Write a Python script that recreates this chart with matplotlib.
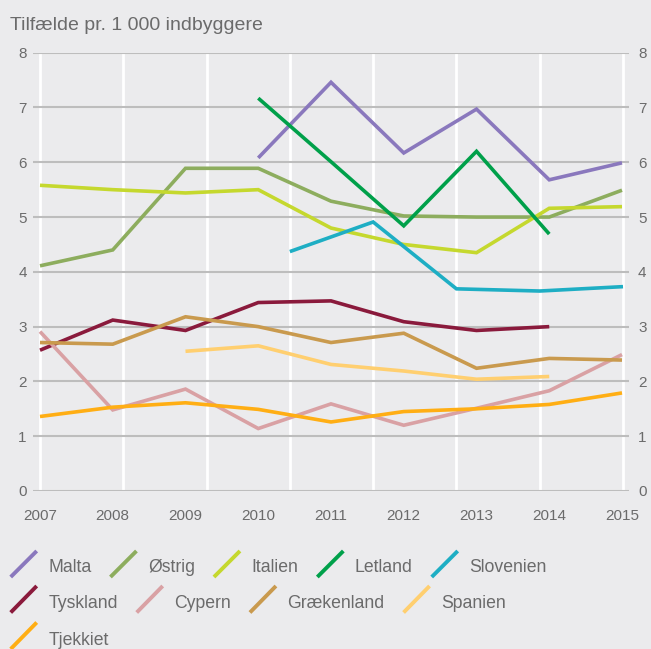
import matplotlib
matplotlib.use("Agg")
import matplotlib.pyplot as plt
from matplotlib import transforms
from matplotlib.lines import Line2D

plt.rcParams['font.family'] = ['Liberation Sans', 'DejaVu Sans']

years = [2007, 2008, 2009, 2010, 2011, 2012, 2013, 2014, 2015]

# Series on the yearly axis (None = no observation)
malta      = [None, None, None, 6.08, 7.46, 6.17, 6.97, 5.68, 5.99]
oestrig    = [4.11, 4.40, 5.89, 5.89, 5.29, 5.02, 5.00, 5.00, 5.49]
italien    = [5.58, 5.50, 5.44, 5.50, 4.80, 4.50, 4.35, 5.16, 5.19]
letland    = [None, None, None, 7.17, 6.01, 4.84, 6.20, 4.69, None]
tyskland   = [2.57, 3.12, 2.93, 3.44, 3.47, 3.09, 2.93, 3.00, None]
cypern     = [2.91, 1.48, 1.86, 1.14, 1.59, 1.20, 1.51, 1.83, 2.49]
graekenland = [2.71, 2.68, 3.18, 3.00, 2.71, 2.88, 2.24, 2.42, 2.39]
spanien    = [None, None, 2.55, 2.65, 2.31, 2.19, 2.04, 2.09, None]
tjekkiet   = [1.36, 1.53, 1.61, 1.49, 1.26, 1.45, 1.50, 1.58, 1.79]

# Slovenia sits on the secondary (gridline) category axis
slovenien_pos = [3, 4, 5, 6, 7]
slovenien     = [4.37, 4.91, 3.69, 3.65, 3.73]

y_ticks = [0, 1, 2, 3, 4, 5, 6, 7, 8]

names = ['Malta', 'Østrig', 'Italien', 'Letland', 'Slovenien',
         'Tyskland', 'Cypern', 'Grækenland', 'Spanien', 'Tjekkiet']
colors = {
    'Malta': '#8a78bd', 'Østrig': '#8dad5e', 'Italien': '#c5d82e',
    'Letland': '#00a04a', 'Slovenien': '#1eaec4', 'Tyskland': '#8a1a3c',
    'Cypern': '#d9a1a4', 'Grækenland': '#c99a4e', 'Spanien': '#ffcf70',
    'Tjekkiet': '#ffae14',
}
series = {
    'Malta': malta, 'Østrig': oestrig, 'Italien': italien, 'Letland': letland,
    'Tyskland': tyskland, 'Cypern': cypern, 'Grækenland': graekenland,
    'Spanien': spanien, 'Tjekkiet': tjekkiet,
}

BG = '#ebebed'
TXT = '#6b6b6b'
W, H = 651, 649

fig = plt.figure(figsize=(W / 100, H / 100), dpi=100, facecolor=BG)


def fx(x):
    return x / W


def fy(y):
    return 1 - y / H


left, right, top, bottom = 33, 629, 52.7, 491
ax = fig.add_axes([fx(left), fy(bottom), fx(right - left), (bottom - top) / H])
ax2 = ax.twiny()
ax2.set_zorder(ax.get_zorder() - 1)
ax.patch.set_visible(False)
ax2.patch.set_facecolor(BG)

# primary yearly scale
px_per_year = (622 - 40) / 8
ax.set_xlim(2007 - (40 - left) / px_per_year, 2015 + (right - 622) / px_per_year)
ax.set_ylim(0, 8)
# secondary scale carrying the white vertical gridlines
px_per_cat = (623 - 40) / 7
ax2.set_xlim(-(40 - left) / px_per_cat, 7 + (right - 623) / px_per_cat)
ax2.set_xticks(range(8))
ax2.grid(axis='x', color='white', linewidth=2)
ax2.tick_params(axis='x', length=0, labeltop=False, labelbottom=False)
for s in ax2.spines.values():
    s.set_visible(False)

for s in ax.spines.values():
    s.set_visible(False)
ax.set_yticks(y_ticks)
ax.grid(axis='y', color='#bdbdbd', linewidth=1.5)
ax.tick_params(axis='y', length=0, labelsize=11, labelcolor=TXT, pad=4.5)
ax.set_xticks(years)
ax.tick_params(axis='x', length=0, labelsize=11, labelcolor=TXT, pad=13)
ax.set_axisbelow(True)

# duplicate value scale on the right
sec = ax.secondary_yaxis('right')
sec.set_yticks(y_ticks)
sec.tick_params(axis='y', length=0, labelsize=11, labelcolor=TXT, pad=6.5)
sec.spines['right'].set_visible(False)

lw = 2.6
for name in names:
    if name == 'Slovenien':
        trans = transforms.blended_transform_factory(ax2.transData, ax.transData)
        ax.plot(slovenien_pos, slovenien, color=colors[name], lw=lw,
                solid_capstyle='butt', solid_joinstyle='miter', transform=trans)
        continue
    vals = series[name]
    xs = [x for x, v in zip(years, vals) if v is not None]
    ys = [v for v in vals if v is not None]
    ax.plot(xs, ys, color=colors[name], lw=lw,
            solid_capstyle='butt', solid_joinstyle='miter')

fig.text(fx(10), fy(30), 'Tilfælde pr. 1 000 indbyggere', fontsize=14,
         color=TXT, ha='left', va='baseline')

# legend laid out in flowing rows: slanted swatch, then label
renderer = fig.canvas.get_renderer()
legend_rows = [
    (['Malta', 'Østrig', 'Italien', 'Letland', 'Slovenien'], 551, 577, 572.5),
    (['Tyskland', 'Cypern', 'Grækenland', 'Spanien'], 586, 612.5, 608.3),
    (['Tjekkiet'], 622.5, 649, 645),
]
for labels, ytop, ybot, base in legend_rows:
    x0 = 10.7
    for lab in labels:
        fig.add_artist(Line2D([fx(x0), fx(x0 + 26)], [fy(ybot), fy(ytop)],
                              transform=fig.transFigure, color=colors[lab],
                              lw=2.8, solid_capstyle='butt'))
        t = fig.text(fx(x0 + 37.5), fy(base), lab, fontsize=12.7, color=TXT,
                     ha='left', va='baseline')
        x0 = x0 + 37.5 + t.get_window_extent(renderer).width + 19

fig.savefig('out.png', dpi=100, facecolor=BG)
